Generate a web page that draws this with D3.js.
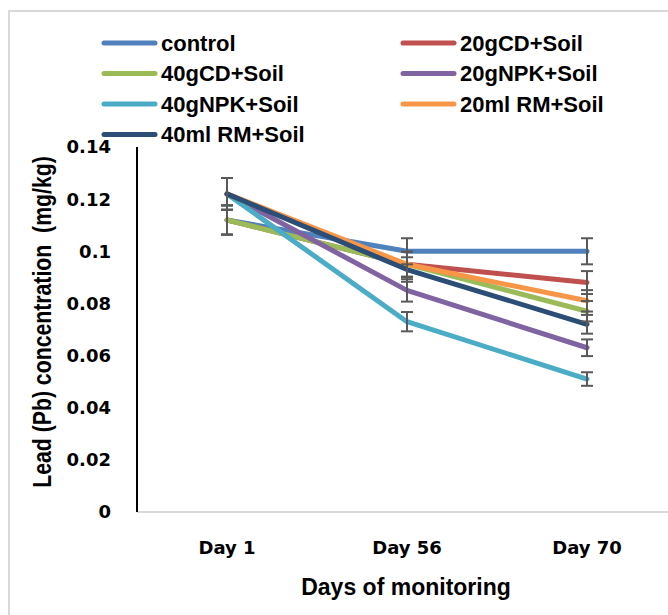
<!DOCTYPE html>
<html>
<head>
<meta charset="utf-8">
<script src="https://cdn.jsdelivr.net/npm/d3@7"></script>
<style>
  body { margin: 0; background: #fff; }
  text { font-weight: bold; }
  .narrow { font-family: "Liberation Sans", Arial, sans-serif; }
  .wide { font-family: "DejaVu Sans", Verdana, sans-serif; }
</style>
</head>
<body>
<div id="chart"></div>
<script>
// days on the x axis
const days = ["Day 1", "Day 56", "Day 70"]
const seriesNames = ["control", "20gCD+Soil", "40gCD+Soil", "20gNPK+Soil", "40gNPK+Soil", "20ml RM+Soil", "40ml RM+Soil"]
const seriesColors = ["#4F81BD", "#C0504D", "#9BBB59", "#8064A2", "#4BACC6", "#F79646", "#2C4D75"]

// lead concentration per series (mg/kg)
const control   = [0.112, 0.100, 0.100]
const cd20      = [0.112, 0.095, 0.088]
const cd40      = [0.112, 0.095, 0.077]
const npk20     = [0.122, 0.085, 0.063]
const npk40     = [0.122, 0.073, 0.051]
const rm20      = [0.122, 0.095, 0.081]
const rm40      = [0.122, 0.093, 0.072]

// error bar half-widths
const controlErr = [0.0056, 0.0050, 0.0050]
const cd20Err    = [0.0056, 0.0048, 0.0044]
const cd40Err    = [0.0056, 0.0048, 0.0039]
const npk20Err   = [0.0061, 0.0043, 0.0032]
const npk40Err   = [0.0061, 0.0037, 0.0026]
const rm20Err    = [0.0061, 0.0048, 0.0041]
const rm40Err    = [0.0061, 0.0047, 0.0036]

const yTicks = [0, 0.02, 0.04, 0.06, 0.08, 0.1, 0.12, 0.14]

const allValues = [control, cd20, cd40, npk20, npk40, rm20, rm40]
const allErrors = [controlErr, cd20Err, cd40Err, npk20Err, npk40Err, rm20Err, rm40Err]

const width = 668, height = 615
const margin = { top: 147, right: -9, bottom: 103, left: 137 }
const innerW = width - margin.left - margin.right
const innerH = height - margin.top - margin.bottom

const svg = d3.select("#chart")
  .append("svg")
  .attr("width", width)
  .attr("height", height)

// outer frame (only top-left edges visible)
svg.append("rect")
  .attr("x", 9).attr("y", 11)
  .attr("width", 700).attr("height", 700)
  .attr("fill", "none")
  .attr("stroke", "#d9d9d9")
  .attr("stroke-width", 2)

const g = svg.append("g")
  .attr("transform", `translate(${margin.left},${margin.top})`)

const x = d3.scaleBand()
  .domain(days)
  .range([0, innerW])

const y = d3.scaleLinear()
  .domain([0, 0.14])
  .range([innerH, 0])

// x axis baseline
g.append("line")
  .attr("x1", 0).attr("x2", innerW)
  .attr("y1", y(0)).attr("y2", y(0))
  .attr("stroke", "#d9d9d9")
  .attr("stroke-width", 2)

// x labels
g.selectAll(".xlab")
  .data(days)
  .join("text")
  .attr("class", "wide")
  .attr("x", d => x(d) + x.bandwidth() / 2)
  .attr("y", innerH + 42)
  .attr("text-anchor", "middle")
  .attr("font-size", 18)
  .attr("fill", "#000")
  .text(d => d)

// y axis line
g.append("line")
  .attr("x1", 0).attr("x2", 0)
  .attr("y1", y(0)).attr("y2", y(0.14))
  .attr("stroke", "#000")
  .attr("stroke-width", 2)

g.selectAll(".ylab")
  .data(yTicks)
  .join("text")
  .attr("class", "wide")
  .attr("x", -26)
  .attr("y", d => y(d))
  .attr("dy", "0.36em")
  .attr("text-anchor", "end")
  .attr("font-size", 18)
  .attr("fill", "#000")
  .text(d => d3.format("~g")(d))

// axis titles
svg.append("text")
  .attr("class", "narrow")
  .attr("transform", `translate(51,322) rotate(-90) scale(0.85,1)`)
  .attr("text-anchor", "middle")
  .attr("font-size", 25)
  .attr("fill", "#000")
  .attr("xml:space", "preserve")
  .text("Lead (Pb) concentration  (mg/kg)")

svg.append("text")
  .attr("class", "narrow")
  .attr("x", 406)
  .attr("y", 595)
  .attr("text-anchor", "middle")
  .attr("font-size", 23)
  .attr("fill", "#000")
  .text("Days of monitoring")

// lines
const line = d3.line()
  .x((d, i) => x(days[i]) + x.bandwidth() / 2)
  .y(d => y(d))

seriesNames.forEach((name, s) => {
  g.append("path")
    .datum(allValues[s])
    .attr("d", line)
    .attr("fill", "none")
    .attr("stroke", seriesColors[s])
    .attr("stroke-width", 5)
    .attr("stroke-linecap", "round")
    .attr("stroke-linejoin", "round")
})

// error bars
seriesNames.forEach((name, s) => {
  allValues[s].forEach((v, i) => {
    const cx = x(days[i]) + x.bandwidth() / 2
    const e = allErrors[s][i]
    const eg = g.append("g")
      .attr("stroke", "#595959")
      .attr("stroke-width", 2)
    eg.append("line")
      .attr("x1", cx).attr("x2", cx)
      .attr("y1", y(v - e)).attr("y2", y(v + e))
    eg.append("line")
      .attr("x1", cx - 6).attr("x2", cx + 6)
      .attr("y1", y(v - e)).attr("y2", y(v - e))
    eg.append("line")
      .attr("x1", cx - 6).attr("x2", cx + 6)
      .attr("y1", y(v + e)).attr("y2", y(v + e))
  })
})

// legend
const legend = svg.append("g")
seriesNames.forEach((name, s) => {
  const col = s % 2, row = Math.floor(s / 2)
  const lx = col === 0 ? 104 : 403
  const ly = 43 + row * 30.5
  legend.append("line")
    .attr("x1", lx).attr("x2", lx + 51)
    .attr("y1", ly).attr("y2", ly)
    .attr("stroke", seriesColors[s])
    .attr("stroke-width", 5)
    .attr("stroke-linecap", "round")
  legend.append("text")
    .attr("class", "narrow")
    .attr("x", lx + 57)
    .attr("y", ly)
    .attr("dy", "0.36em")
    .attr("font-size", 22)
    .attr("fill", "#000")
    .text(name)
})
</script>
</body>
</html>
